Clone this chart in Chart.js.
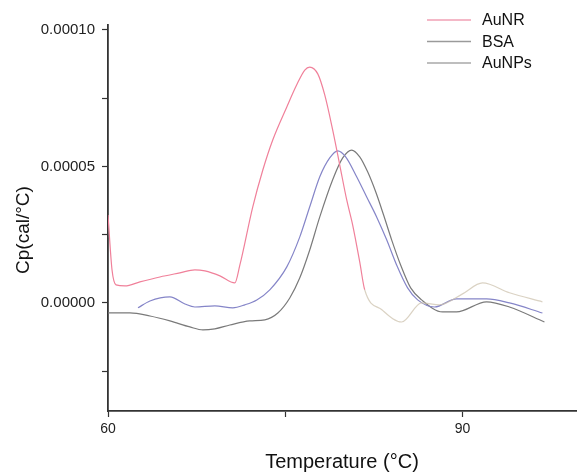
<!DOCTYPE html>
<html>
<head>
<meta charset="utf-8">
<script src="https://cdn.jsdelivr.net/npm/chart.js@4/dist/chart.umd.min.js"></script>
<style>
  html, body { margin: 0; padding: 0; background: #fff; }
  #wrap { width: 579px; height: 475px; position: relative; }
</style>
</head>
<body>
<div id="wrap"><canvas id="c" width="579" height="475"></canvas></div>
<script>
// ---- data ----
const seriesLabels = ['AuNR', 'BSA', 'AuNPs'];

const aunrT  = [60.0, 60.34, 60.68, 61.44, 62.70, 64.39, 66.08, 67.35, 68.20, 69.47, 70.73, 71.16, 72.25, 73.10, 73.94, 75.13, 75.97, 76.65, 77.07, 77.75, 78.34, 79.01, 79.61, 80.20, 80.70, 81.30, 81.72, 83.2, 84.85, 86.54, 88.06, 90.0, 91.69, 93.97, 96.76];
const aunrCp = [3.22e-5, 1.21e-5, 6.6e-6, 6.2e-6, 7.7e-6, 9.5e-6, 1.10e-5, 1.21e-5, 1.17e-5, 9.9e-6, 7.3e-6, 1.39e-5, 3.52e-5, 4.87e-5, 5.97e-5, 7.18e-5, 7.99e-5, 8.53e-5, 8.64e-5, 8.39e-5, 7.62e-5, 6.34e-5, 5.05e-5, 3.77e-5, 2.86e-5, 1.50e-5, 4.8e-6, -2.6e-6, -7.0e-6, 0.0, -7e-7, 3.3e-6, 7.3e-6, 3.7e-6, 4e-7];

const bsaT  = [62.54, 63.55, 65.24, 66.51, 67.35, 69.04, 70.56, 71.58, 72.59, 73.69, 75.13, 76.23, 77.07, 77.92, 78.76, 79.44, 80.11, 81.04, 81.89, 82.73, 83.58, 84.42, 85.35, 86.20, 87.63, 89.49, 92.03, 93.97, 96.76];
const bsaCp = [-1.8e-6, 7e-7, 2.2e-6, -4e-7, -1.5e-6, -1.1e-6, -1.8e-6, -7e-7, 1.1e-6, 4.8e-6, 1.32e-5, 2.42e-5, 3.52e-5, 4.62e-5, 5.31e-5, 5.57e-5, 5.35e-5, 4.62e-5, 3.88e-5, 3.15e-5, 2.31e-5, 1.39e-5, 5.5e-6, 1.1e-6, -1.5e-6, 1.5e-6, 1.5e-6, 0.0, -3.7e-6];

const aunpsT  = [60.0, 61.86, 63.55, 65.24, 66.93, 68.03, 69.04, 70.31, 72.00, 73.27, 74.37, 75.38, 76.23, 77.07, 77.92, 79.01, 79.86, 80.62, 81.30, 81.97, 82.65, 83.32, 84.00, 84.76, 85.61, 86.54, 88.31, 89.49, 92.03, 93.97, 96.93];
const aunpsCp = [-3.66e-6, -3.66e-6, -4.8e-6, -6.6e-6, -8.8e-6, -9.9e-6, -9.5e-6, -8.1e-6, -6.6e-6, -6.2e-6, -3.7e-6, 1.8e-6, 9.2e-6, 1.94e-5, 3.15e-5, 4.51e-5, 5.31e-5, 5.60e-5, 5.35e-5, 4.80e-5, 4.07e-5, 3.22e-5, 2.31e-5, 1.39e-5, 5.5e-6, 1.1e-6, -3.3e-6, -3.3e-6, 4e-7, -1.5e-6, -7.0e-6];

const xTickValues = [60, 75, 90];
const xTickLabels = ['60', '', '90'];
const yTickValues = [-0.000025, 0, 0.000025, 0.00005, 0.000075, 0.0001];
const yTickLabels = ['', '0.00000', '', '0.00005', '', '0.00010'];
const xTitle = 'Temperature (°C)';
const yTitle = 'Cp(cal/°C)';

// ---- build ----
const toXY = (xs, ys) => xs.map((x, i) => ({ x: x, y: ys[i] }));
const FONT = "Arial, 'Liberation Sans', sans-serif";
const colors = { AuNR: '#f0809a', BSA: '#8585c8', AuNPs: '#7a7a7a' };
const legendColors = ['#f0a0b4', '#9a9a9a', '#a8a8a8'];

const legendPlugin = {
  id: 'cornerLegend',
  afterDraw(chart) {
    const ctx = chart.ctx;
    ctx.save();
    chart.data.datasets.forEach((ds, i) => {
      const y = 20 + i * 21.5;
      ctx.strokeStyle = legendColors[i];
      ctx.lineWidth = 1.5;
      ctx.beginPath();
      ctx.moveTo(427, y);
      ctx.lineTo(471, y);
      ctx.stroke();
      ctx.fillStyle = '#111';
      ctx.font = '16px ' + FONT;
      ctx.textBaseline = 'middle';
      ctx.textAlign = 'left';
      ctx.fillText(ds.label, 482, y + 1);
    });
    // y-axis title (placed slightly below the plot's centre, as in the reference)
    ctx.translate(24, 230);
    ctx.rotate(-Math.PI / 2);
    ctx.fillStyle = '#111';
    ctx.font = '19px ' + FONT;
    ctx.textAlign = 'center';
    ctx.textBaseline = 'middle';
    ctx.fillText(yTitle, 0, 0);
    ctx.restore();
  }
};

new Chart(document.getElementById('c'), {
  type: 'line',
  data: {
    datasets: [
      {
        label: seriesLabels[0], data: toXY(aunrT, aunrCp),
        borderColor: colors.AuNR, borderWidth: 1.2, pointRadius: 0, cubicInterpolationMode: 'monotone',
        segment: { borderColor: ctx => ctx.p0.parsed.x >= 81.7 ? 'rgba(205,195,175,0.75)' : undefined }
      },
      {
        label: seriesLabels[1], data: toXY(bsaT, bsaCp),
        borderColor: colors.BSA, borderWidth: 1.2, pointRadius: 0, cubicInterpolationMode: 'monotone'
      },
      {
        label: seriesLabels[2], data: toXY(aunpsT, aunpsCp),
        borderColor: colors.AuNPs, borderWidth: 1.2, pointRadius: 0, cubicInterpolationMode: 'monotone'
      }
    ]
  },
  options: {
    responsive: false,
    animation: false,
    layout: { padding: { top: 25, right: 3, left: 0, bottom: 0 } },
    plugins: { legend: { display: false }, tooltip: { enabled: false } },
    scales: {
      x: {
        type: 'linear', min: 60, max: 99.6,
        afterBuildTicks: s => { s.ticks = xTickValues.map(v => ({ value: v })); },
        afterFit: s => { s.height = 64; },
        ticks: {
          autoSkip: false, maxRotation: 0, padding: 4,
          color: '#222', font: { family: FONT, size: 14 },
          callback: (v, i) => xTickLabels[i]
        },
        grid: { display: true, drawOnChartArea: false, drawTicks: true, tickLength: 6, tickColor: '#333', tickWidth: 1.2 },
        border: { display: true, color: '#333', width: 1.8 },
        title: { display: true, text: xTitle, color: '#111', font: { family: FONT, size: 20 }, padding: { top: 0, bottom: 1 } }
      },
      y: {
        type: 'linear', min: -0.0000396, max: 0.0001018,
        afterBuildTicks: s => { s.ticks = yTickValues.map(v => ({ value: v })); },
        afterFit: s => { s.width = 108; },
        ticks: {
          autoSkip: false, padding: 7,
          color: '#222', font: { family: FONT, size: 15 },
          callback: (v, i) => yTickLabels[i]
        },
        grid: { display: true, drawOnChartArea: false, drawTicks: true, tickLength: 6, tickColor: '#333', tickWidth: 1.2 },
        border: { display: true, color: '#333', width: 1.8 }
      }
    }
  },
  plugins: [legendPlugin]
});
</script>
</body>
</html>
